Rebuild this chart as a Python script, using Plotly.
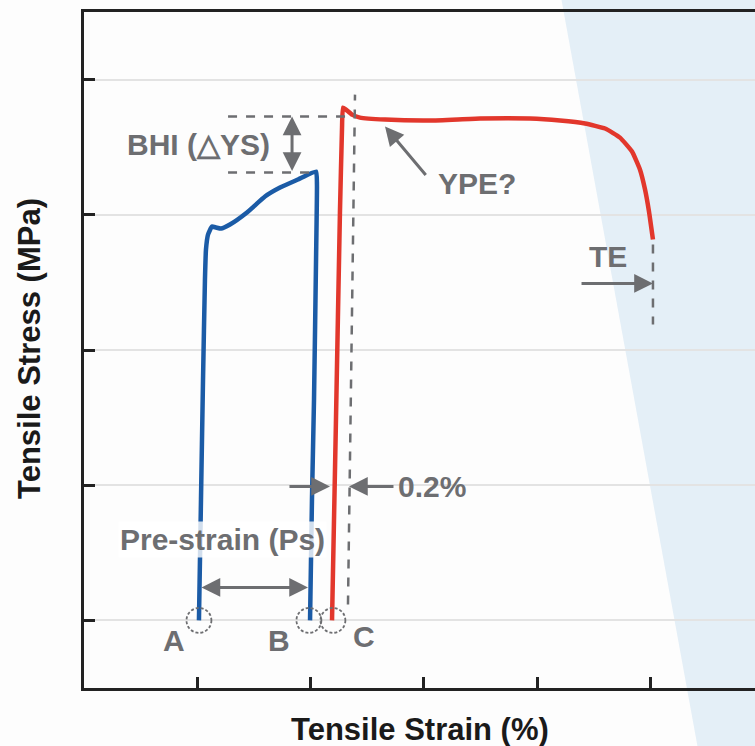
import plotly.graph_objects as go

# ---- data (strain in arbitrary % units, stress in MPa-like units) ----
blue_strain = [1.015, 1.033, 1.051, 1.068, 1.077, 1.095, 1.130, 1.166, 1.210, 1.289,
               1.439, 1.598, 1.731, 1.890, 2.049, 2.057, 2.049, 2.031, 2.013, 1.996]
blue_stress = [0, 89.5, 178.2, 252.1, 274.3, 285.4, 291.3, 290.6, 289.8, 292.8,
               301.7, 313.5, 320.1, 326.1, 332.0, 322.4, 266.9, 163.4, 89.5, 0]

red_strain = [2.190, 2.225, 2.260, 2.278, 2.287, 2.313, 2.366, 2.437, 2.658,
              3.055, 3.497, 3.938, 4.203, 4.424, 4.601, 4.733, 4.839, 4.909, 4.954,
              4.989, 5.024]
red_stress = [0, 148.6, 301.7, 363.0, 379.3, 377.8, 374.1, 371.9, 370.4,
              369.7, 371.2, 371.2, 369.7, 367.5, 363.8, 357.1, 346.8, 333.5, 318.7,
              302.4, 281.7]

x_ticks = [1, 2, 3, 4, 5]
y_ticks = [0, 100, 200, 300, 400]

GRAY = "#6d6e71"
FONT = "Liberation Sans"

fig = go.Figure()
fig.add_trace(go.Scatter(x=blue_strain, y=blue_stress, mode="lines",
                         line=dict(color="#1b5ba6", width=4.5, shape="spline", smoothing=0.4),
                         hoverinfo="skip"))
fig.add_trace(go.Scatter(x=red_strain, y=red_stress, mode="lines",
                         line=dict(color="#e2372c", width=4.5, shape="spline", smoothing=0.4),
                         hoverinfo="skip"))

shapes = []
# light blue background wedge (paper coords)
shapes.append(dict(type="path", xref="paper", yref="paper", layer="below",
                   path="M 0.7094 1.03 L 1.05 1.03 L 1.05 -0.09 L 0.915 -0.09 Z",
                   fillcolor="#e4eff7", line=dict(width=0)))

def dline(x0, y0, x1, y1):
    shapes.append(dict(type="line", xref="x", yref="y", x0=x0, y0=y0, x1=x1, y1=y1,
                       line=dict(color=GRAY, width=2.5, dash="dash")))

dline(1.272, 372.7, 2.322, 372.7)
dline(1.272, 331.2, 2.022, 331.2)
dline(2.331, 11.8, 2.393, 388.9)
dline(5.024, 278.0, 5.024, 218.9)

# dashed circles at A, B, C
for cx in [1.015, 1.986, 2.198]:
    shapes.append(dict(type="circle", xref="x", yref="y",
                       x0=cx - 0.11, x1=cx + 0.11, y0=-9.2, y1=9.2,
                       line=dict(color=GRAY, width=1.8, dash="3px,2px")))

annotations = []

def arrow(x0, y0, x1, y1, both=False):
    annotations.append(dict(x=x1, y=y1, ax=x0, ay=y0, xref="x", yref="y",
                            axref="x", ayref="y", text="", showarrow=True,
                            arrowhead=2, arrowsize=1.25, arrowwidth=3,
                            arrowcolor=GRAY,
                            arrowside="end+start" if both else "end",
                            startarrowhead=2, startarrowsize=1.25))

arrow(1.837, 331.2, 1.837, 372.7, both=True)
arrow(4.380, 249.2, 5.024, 249.2)
arrow(1.801, 99.1, 2.172, 99.1)
arrow(2.746, 99.1, 2.340, 99.1)
arrow(1.024, 24.4, 1.978, 24.4, both=True)
arrow(3.029, 328.3, 2.658, 365.3)

def label(x, y, text, bg=None):
    d = dict(x=x, y=y, xref="x", yref="y", text=text, showarrow=False,
             font=dict(family=FONT, size=30, color=GRAY, weight="bold"),
             xanchor="center", yanchor="middle")
    if bg:
        d["bgcolor"] = bg
    annotations.append(d)

label(1.007, 352.0, "BHI (△YS)")
label(3.470, 323.1, "YPE?")
label(4.627, 269.1, "TE")
label(3.073, 99.1, "0.2%")
label(1.219, 59.9, "Pre-strain (Ps)", bg="rgba(255,255,255,0.8)")
label(0.795, -14.8, "A")
label(1.722, -14.8, "B")
label(2.472, -11.8, "C")

# axis titles
annotations.append(dict(x=0.5, y=-0.0621, xref="paper", yref="paper",
                        text="Tensile Strain (%)", showarrow=False,
                        font=dict(family=FONT, size=31, color="#1a1a1a", weight="bold"),
                        xanchor="center", yanchor="middle"))
annotations.append(dict(x=-0.0805, y=0.503, xref="paper", yref="paper",
                        text="Tensile Stress (MPa)", showarrow=False, textangle=-90,
                        font=dict(family=FONT, size=31, color="#1a1a1a", weight="bold"),
                        xanchor="center", yanchor="middle"))

fig.update_layout(
    width=755, height=746,
    margin=dict(l=84, r=0, t=12, b=58),
    paper_bgcolor="#fdfdfd", plot_bgcolor="rgba(0,0,0,0)",
    showlegend=False,
    shapes=shapes, annotations=annotations,
    xaxis=dict(range=[0, 5.925], tickvals=x_ticks, showticklabels=False,
               ticks="inside", ticklen=11, tickwidth=2.5, tickcolor="#222",
               showline=True, linewidth=3, linecolor="#222", mirror=True,
               showgrid=False, zeroline=False),
    yaxis=dict(range=[-50, 450], tickvals=y_ticks, showticklabels=False,
               ticks="inside", ticklen=11, tickwidth=2.5, tickcolor="#222",
               showline=True, linewidth=3, linecolor="#222", mirror=False,
               showgrid=True, gridcolor="#e3e3e3", gridwidth=1.5, zeroline=False),
)

fig.write_html("out.html")
